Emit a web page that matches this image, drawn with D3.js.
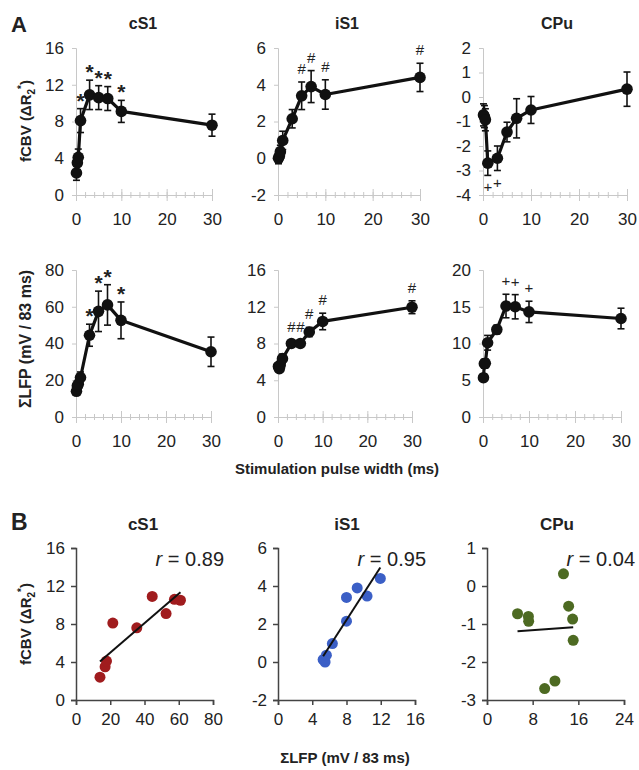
<!DOCTYPE html>
<html lang="en">
<head>
  <meta charset="utf-8">
  <title>fCBV and LFP vs pulse width</title>
  <script src="https://d3js.org/d3.v7.min.js"></script>
  <style type="text/css">
    body { margin: 0; background: #fff; }
    svg { font-family: "Liberation Sans", Arial, sans-serif; }
  </style>
</head>
<body>
  <div id="chart"></div>
  <script type="text/javascript">
    // data
    const pulseWidth = [0.1, 0.3, 0.5, 1, 3, 5, 7, 10, 30];

    const cs1Fcbv    = [2.4, 3.5, 4.1, 8.1, 10.9, 10.6, 10.5, 9.1, 7.6];
    const cs1FcbvErr = [0.8, 0.8, 0.9, 1.3, 1.6, 1.3, 1.3, 1.2, 1.2];
    const cs1Lfp     = [14, 17, 17.8, 21.5, 44.5, 57.5, 61, 52.6, 35.5];
    const cs1LfpErr  = [2, 2, 2.5, 3, 6, 11, 11, 10, 8];

    const is1Fcbv    = [0.0, 0.13, 0.36, 0.97, 2.15, 3.4, 3.9, 3.47, 4.4];
    const is1FcbvErr = [0.3, 0.3, 0.35, 0.5, 0.5, 0.75, 0.87, 0.8, 0.77];
    const is1Lfp     = [5.5, 5.27, 5.65, 6.35, 8.0, 8.0, 9.25, 10.4, 11.95];
    const is1LfpErr  = [0.3, 0.3, 0.4, 0.5, 0.4, 0.4, 0.5, 0.9, 0.7];

    const cpuFcbv    = [-0.73, -0.8, -0.93, -2.7, -2.5, -1.43, -0.87, -0.53, 0.32];
    const cpuFcbvErr = [0.45, 0.45, 0.45, 0.5, 0.5, 0.4, 0.8, 0.55, 0.7];
    const cpuLfp     = [5.35, 7.25, 7.3, 10.1, 11.9, 15.1, 15.0, 14.3, 13.4];
    const cpuLfpErr  = [0.5, 0.6, 0.6, 1.0, 0.6, 1.6, 1.65, 1.45, 1.4];

    // significance marks per pulse width
    const cs1FcbvMarks = ["", "", "", "*", "*", "*", "*", "*", ""];
    const cs1LfpMarks  = ["", "", "", "", "*", "*", "*", "*", ""];
    const is1FcbvMarks = ["", "", "", "", "", "#", "#", "#", "#"];
    const is1LfpMarks  = ["", "", "", "", "#", "#", "#", "#", "#"];
    const cpuFcbvMarks = ["", "", "", "+", "+", "", "", "", ""];
    const cpuLfpMarks  = ["", "", "", "", "", "+", "+", "+", ""];

    const regionNames = ["cS1", "iS1", "CPu"];
    const rValues = ["0.89", "0.95", "0.04"];

    // tick labels
    const pulseTicks = [0, 10, 20, 30];
    const cs1FcbvTicks = [0, 4, 8, 12, 16];
    const is1FcbvTicks = [-2, 0, 2, 4, 6];
    const cpuFcbvTicks = [-4, -3, -2, -1, 0, 1, 2];
    const cs1LfpTicks = [0, 20, 40, 60, 80];
    const is1LfpTicks = [0, 4, 8, 12, 16];
    const cpuLfpTicks = [0, 5, 10, 15, 20];
    const cs1ScatterXTicks = [0, 20, 40, 60, 80];
    const is1ScatterXTicks = [0, 4, 8, 12, 16];
    const cpuScatterXTicks = [0, 8, 16, 24];
    const cs1ScatterYTicks = [0, 4, 8, 12, 16];
    const is1ScatterYTicks = [-2, 0, 2, 4, 6];
    const cpuScatterYTicks = [-3, -2, -1, 0, 1];

    const dotColors = ["#a01c1e", "#3b5fc6", "#4d6a22"];

    const w = 639, h = 770;
    const svg = d3.select("#chart").append("svg")
        .attr("width", w)
        .attr("height", h);

    const fmt = d => String(d);   // plain hyphen minus like the original

    const markStyle = {
      "*": {size: 21, dy: 12, weight: "bold"},
      "#": {size: 15, dy: 5, weight: "normal"},
      "+": {size: 15, dy: 5, weight: "normal"}
    };

    function fcbvLabel(sel) {
      sel.append("tspan").text("fCBV (\u0394R");
      sel.append("tspan").attr("font-size", "10px").attr("dy", 4).text("2");
      sel.append("tspan").attr("font-size", "10px").attr("dy", -10).text("*");
      sel.append("tspan").attr("dy", 6).text(")");
    }

    function linePanel(p) {
      const x = d3.scaleLinear().domain([0, 30]).range(p.xr);
      const y = d3.scaleLinear().domain(d3.extent(p.ticks)).range([p.yb, p.yt]);
      const g = svg.append("g");

      // y axis (light)
      const ya = d3.axisLeft(y).tickValues(p.ticks).tickFormat(fmt).tickSize(4).tickPadding(8);
      g.append("g").attr("transform", `translate(${p.xr[0]},0)`).call(ya)
        .call(s => s.select(".domain").attr("stroke", "#c8c8c8"))
        .call(s => s.selectAll(".tick line").attr("stroke", "#c8c8c8"))
        .call(s => s.selectAll(".tick text").attr("font-size", "17px").attr("fill", "#222")
          .attr("font-family", null));

      // x axis: minor ticks every 2, major every 10, crossing the line
      const xMinor = d3.axisBottom(x).tickValues(d3.range(0, 31, 2)).tickSize(3).tickFormat("");
      g.append("g").attr("transform", `translate(0,${p.yb})`).call(xMinor)
        .call(s => s.select(".domain").attr("stroke", "#c8c8c8"))
        .call(s => s.selectAll(".tick line").attr("stroke", "#c8c8c8").attr("y1", -3));
      const xMajor = d3.axisBottom(x).tickValues(pulseTicks).tickFormat(fmt).tickSize(6).tickPadding(12);
      g.append("g").attr("transform", `translate(0,${p.yb})`).call(xMajor)
        .call(s => s.select(".domain").remove())
        .call(s => s.selectAll(".tick line").attr("stroke", "#c8c8c8").attr("y1", -6))
        .call(s => s.selectAll(".tick text").attr("font-size", "17px").attr("fill", "#222")
          .attr("font-family", null));

      const pts = pulseWidth.map((pw, i) => ({pw: pw, v: p.vals[i], e: p.errs[i], m: p.marks[i]}));

      // error bars
      const eb = g.append("g").attr("stroke", "#111").attr("stroke-width", 1.6);
      pts.forEach(d => {
        eb.append("line").attr("x1", x(d.pw)).attr("x2", x(d.pw))
          .attr("y1", y(d.v - d.e)).attr("y2", y(d.v + d.e));
        [d.v - d.e, d.v + d.e].forEach(t => {
          eb.append("line").attr("x1", x(d.pw) - 3.5).attr("x2", x(d.pw) + 3.5)
            .attr("y1", y(t)).attr("y2", y(t));
        });
      });

      g.append("path").datum(pts)
        .attr("fill", "none").attr("stroke", "#111").attr("stroke-width", 3.2)
        .attr("stroke-linejoin", "round")
        .attr("d", d3.line().x(d => x(d.pw)).y(d => y(d.v)));

      g.selectAll("circle.pt").data(pts).enter().append("circle")
        .attr("class", "pt")
        .attr("cx", d => x(d.pw)).attr("cy", d => y(d.v)).attr("r", 5.8)
        .attr("fill", "#111");

      g.selectAll("text.mark").data(pts.filter(d => d.m)).enter().append("text")
        .attr("class", "mark")
        .attr("x", d => x(d.pw))
        .attr("y", d => d.v < 0 ? y(d.v - d.e) + 12 + markStyle[d.m].dy
                               : y(d.v + d.e) - 13 + markStyle[d.m].dy)
        .attr("text-anchor", "middle")
        .attr("font-size", d => markStyle[d.m].size + "px")
        .attr("font-weight", d => markStyle[d.m].weight)
        .attr("fill", "#222")
        .text(d => d.m);
    }

    function scatterPanel(p) {
      const x = d3.scaleLinear().domain(d3.extent(p.xticks)).range(p.xr);
      const y = d3.scaleLinear().domain(d3.extent(p.yticks)).range([p.yb, p.yt]);
      const g = svg.append("g");

      const ya = d3.axisLeft(y).tickValues(p.yticks).tickFormat(fmt).tickSize(5).tickPadding(6);
      g.append("g").attr("transform", `translate(${p.xr[0]},0)`).call(ya)
        .call(s => s.selectAll(".domain, .tick line").attr("stroke", "#444").attr("stroke-width", 1.5))
        .call(s => s.selectAll(".tick text").attr("font-size", "17px").attr("fill", "#222")
          .attr("font-family", null));
      const xa = d3.axisBottom(x).tickValues(p.xticks).tickFormat(fmt).tickSize(5).tickPadding(8);
      g.append("g").attr("transform", `translate(0,${p.yb})`).call(xa)
        .call(s => s.selectAll(".domain, .tick line").attr("stroke", "#444").attr("stroke-width", 1.5))
        .call(s => s.selectAll(".tick text").attr("font-size", "17px").attr("fill", "#222")
          .attr("font-family", null));

      const pts = p.xs.map((v, i) => ({x: v, y: p.ys[i]}));

      // least squares fit over the data range
      const mx = d3.mean(pts, d => d.x), my = d3.mean(pts, d => d.y);
      const slope = d3.sum(pts, d => (d.x - mx) * (d.y - my)) / d3.sum(pts, d => (d.x - mx) ** 2);
      const [x0, x1] = d3.extent(pts, d => d.x);

      g.selectAll("circle").data(pts).enter().append("circle")
        .attr("cx", d => x(d.x)).attr("cy", d => y(d.y)).attr("r", 5.5)
        .attr("fill", p.color);

      g.append("line")
        .attr("x1", x(x0)).attr("y1", y(my + slope * (x0 - mx)))
        .attr("x2", x(x1)).attr("y2", y(my + slope * (x1 - mx)))
        .attr("stroke", "#111").attr("stroke-width", 2);

      const rt = g.append("text")
        .attr("x", p.xr[1] + 11).attr("y", 566)
        .attr("text-anchor", "end").attr("font-size", "20px").attr("fill", "#222");
      rt.append("tspan").attr("font-style", "italic").text("r");
      rt.append("tspan").text(" = " + p.r);
    }

    const aTopY = [195, 48];
    const aBotY = [417, 270];
    const colXA = [[76, 212], [278, 420], [483, 627]];
    const colXA2 = [[76, 211], [278, 412], [483, 621]];
    const colXB = [[76, 213], [278, 415], [487, 624]];

    const fcbvSets = [[cs1Fcbv, cs1FcbvErr, cs1FcbvMarks, cs1FcbvTicks],
                      [is1Fcbv, is1FcbvErr, is1FcbvMarks, is1FcbvTicks],
                      [cpuFcbv, cpuFcbvErr, cpuFcbvMarks, cpuFcbvTicks]];
    const lfpSets = [[cs1Lfp, cs1LfpErr, cs1LfpMarks, cs1LfpTicks],
                     [is1Lfp, is1LfpErr, is1LfpMarks, is1LfpTicks],
                     [cpuLfp, cpuLfpErr, cpuLfpMarks, cpuLfpTicks]];
    const scatterTicks = [[cs1ScatterXTicks, cs1ScatterYTicks],
                          [is1ScatterXTicks, is1ScatterYTicks],
                          [cpuScatterXTicks, cpuScatterYTicks]];

    regionNames.forEach((name, i) => {
      linePanel({xr: colXA[i], yb: aTopY[0], yt: aTopY[1],
        vals: fcbvSets[i][0], errs: fcbvSets[i][1], marks: fcbvSets[i][2], ticks: fcbvSets[i][3]});
      linePanel({xr: colXA2[i], yb: aBotY[0], yt: aBotY[1],
        vals: lfpSets[i][0], errs: lfpSets[i][1], marks: lfpSets[i][2], ticks: lfpSets[i][3]});
      scatterPanel({xr: colXB[i], yb: 700, yt: 548,
        xs: lfpSets[i][0], ys: fcbvSets[i][0], xticks: scatterTicks[i][0], yticks: scatterTicks[i][1],
        color: dotColors[i], r: rValues[i]});

      const cx = [143, 347, 557][i];
      svg.append("text").attr("x", cx).attr("y", 29).attr("text-anchor", "middle")
        .attr("font-size", "16px").attr("font-weight", "bold").attr("fill", "#222").text(name);
      svg.append("text").attr("x", cx).attr("y", 530).attr("text-anchor", "middle")
        .attr("font-size", "17px").attr("font-weight", "bold").attr("fill", "#222").text(name);
    });

    // panel letters
    svg.append("text").attr("x", 11).attr("y", 32).attr("font-size", "22px")
      .attr("font-weight", "bold").attr("fill", "#222").text("A");
    svg.append("text").attr("x", 11).attr("y", 530).attr("font-size", "23px")
      .attr("font-weight", "bold").attr("fill", "#222").text("B");

    // axis titles
    svg.append("text").attr("transform", "translate(31,121) rotate(-90)")
      .attr("text-anchor", "middle").attr("font-size", "15px").attr("font-weight", "bold")
      .attr("fill", "#222").call(fcbvLabel);
    svg.append("text").attr("transform", "translate(31,339) rotate(-90)")
      .attr("text-anchor", "middle").attr("font-size", "16px").attr("font-weight", "bold")
      .attr("fill", "#222").text("\u03A3LFP (mV / 83 ms)");
    svg.append("text").attr("transform", "translate(31,624) rotate(-90)")
      .attr("text-anchor", "middle").attr("font-size", "15px").attr("font-weight", "bold")
      .attr("fill", "#222").call(fcbvLabel);
    svg.append("text").attr("x", 337).attr("y", 474).attr("text-anchor", "middle")
      .attr("font-size", "15px").attr("font-weight", "bold").attr("fill", "#222")
      .text("Stimulation pulse width (ms)");
    svg.append("text").attr("x", 345).attr("y", 763).attr("text-anchor", "middle")
      .attr("font-size", "15px").attr("font-weight", "bold").attr("fill", "#222")
      .text("\u03A3LFP (mV / 83 ms)");
  </script>
</body>
</html>
